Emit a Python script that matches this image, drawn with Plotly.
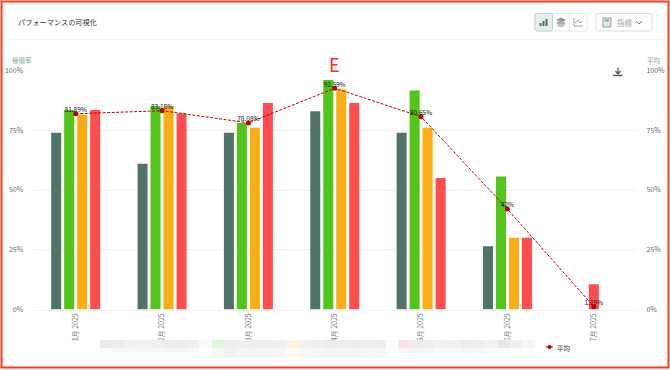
import plotly.graph_objects as go

W, H = 670, 370
months = ["1月 2025", "2月 2025", "3月 2025", "4月 2025", "5月 2025", "6月 2025", "7月 2025"]
series_a = [74, 61, 74, 83, 74, 26.5, None]
series_b = [83.5, 85, 78, 96, 91.6, 55.7, None]
series_c = [81.5, 85, 76, 92, 76, 30, None]
series_d = [83.5, 82, 86.4, 86.4, 55, 30, 10.6]
average = [81.89, 83.18, 78.08, 92.59, 80.65, 42, 1.19]
average_labels = ["81.89%", "83.18%", "78.08%", "92.59%", "80.65%", "42%", "1.19%"]
tick_vals = [0, 25, 50, 75, 100]
tick_text = ["0%", "25%", "50%", "75%", "100%"]
bar_colors = ["#4f7369", "#52c41a", "#faad14", "#ff4d4f"]
bar_names = ["A", "B", "C", "D"]


def px(x):
    return x / W


def py(y):
    return 1 - y / H


def rect(x0, y0, x1, y1, fill=None, line=None, lw=1, r=0):
    if r:
        path = (f"M{px(x0+r)},{py(y0)} L{px(x1-r)},{py(y0)} Q{px(x1)},{py(y0)} {px(x1)},{py(y0+r)} "
                f"L{px(x1)},{py(y1-r)} Q{px(x1)},{py(y1)} {px(x1-r)},{py(y1)} L{px(x0+r)},{py(y1)} "
                f"Q{px(x0)},{py(y1)} {px(x0)},{py(y1-r)} L{px(x0)},{py(y0+r)} Q{px(x0)},{py(y0)} {px(x0+r)},{py(y0)} Z")
        return dict(type="path", xref="paper", yref="paper", path=path,
                    fillcolor=fill or "rgba(0,0,0,0)", line=dict(color=line or "rgba(0,0,0,0)", width=lw), layer="above")
    return dict(type="rect", xref="paper", yref="paper", x0=px(x0), x1=px(x1), y0=py(y1), y1=py(y0),
                fillcolor=fill or "rgba(0,0,0,0)", line=dict(color=line or "rgba(0,0,0,0)", width=lw), layer="above")


def seg(x0, y0, x1, y1, color, lw=1):
    return dict(type="line", xref="paper", yref="paper", x0=px(x0), x1=px(x1), y0=py(y0), y1=py(y1),
                line=dict(color=color, width=lw), layer="above")


fig = go.Figure()
# Bars are grouped among the series that have a value in each month, so a month
# with a single value has its bar centred on the category.
bar_w = 10 / 86.4
pitch = 13 / 86.4
all_series = [series_a, series_b, series_c, series_d]
for s_i, (name, vals, col) in enumerate(zip(bar_names, all_series, bar_colors)):
    offsets = []
    for m_i in range(len(months)):
        present = [k for k in range(4) if all_series[k][m_i] is not None]
        pos = present.index(s_i) if s_i in present else 0
        offsets.append((pos - (len(present) - 1) / 2) * pitch - bar_w / 2)
    fig.add_trace(go.Bar(x=months, y=vals, name=name, width=bar_w, offset=offsets,
                         marker=dict(color=col, line=dict(width=0)), showlegend=False, hoverinfo="skip"))
fig.add_trace(go.Scatter(x=months, y=average, name="平均", yaxis="y2", mode="lines+markers",
                         line=dict(color="#c00000", width=1, dash="3px,1.5px"),
                         marker=dict(color="#c00000", size=5), showlegend=False))
fig.add_trace(go.Scatter(x=months, y=average, name="平均ラベル", yaxis="y2", mode="text",
                         text=average_labels, textposition="top center",
                         textfont=dict(size=6.5, color="#111111", family="Noto Sans CJK JP"),
                         showlegend=False))

shapes = [
    rect(1.5, 1.5, 668.5, 367.5, None, "#ff3b1f", 2),
    seg(5, 39.5, 664, 39.5, "#f4f5f5", 1),
    # toolbar
    rect(535, 13.5, 587, 31, "#ffffff", "#e4e9e8", 1, 2),
    rect(535, 13.5, 552.5, 31, "#e9eeed", "#c5d2cf", 1, 2),
    seg(569.5, 14, 569.5, 31, "#e8ecec", 1),
    rect(596, 13.5, 652, 31, "#ffffff", "#d8e2df", 1, 2),
    # bar icon
    rect(539.5, 23, 541.5, 26, "#4f7369"), rect(542.5, 21, 544.5, 26, "#4f7369"), rect(545.5, 19, 547.5, 26, "#4f7369"),
    # layer icon
    dict(type="path", xref="paper", yref="paper", layer="above", fillcolor="#8a9a96", line=dict(width=0),
         path=f"M{px(556)},{py(20)} L{px(561)},{py(17.5)} L{px(566)},{py(20)} L{px(561)},{py(22.5)} Z"),
    dict(type="path", xref="paper", yref="paper", layer="above", fillcolor="#a3afac", line=dict(width=0),
         path=f"M{px(556)},{py(23)} L{px(561)},{py(20.5)} L{px(566)},{py(23)} L{px(561)},{py(25.5)} Z"),
    dict(type="path", xref="paper", yref="paper", layer="above", fillcolor="#b8c2bf", line=dict(width=0),
         path=f"M{px(556)},{py(25)} L{px(561)},{py(23.5)} L{px(566)},{py(25)} L{px(561)},{py(27.5)} Z"),
    # line icon
    seg(574, 18, 574, 26, "#9aa8a5"), seg(574, 26, 583, 26, "#9aa8a5"),
    seg(575, 23, 578, 20, "#9aa8a5"), seg(578, 20, 580, 23, "#9aa8a5"), seg(580, 23, 583, 21, "#9aa8a5"),
    # calculator icon
    rect(603, 18, 611, 27, "#dfe6e4", "#8fa39e", 1),
    rect(605, 19.5, 609, 21.5, "#8fa39e"),
    # chevron
    seg(636, 21, 639, 24, "#6f817c"), seg(639, 24, 642, 21, "#6f817c"),
    # download icon
    rect(611, 66, 625, 74.5, "#ffffff"),
    seg(618, 67.5, 618, 73, "#555555", 1.2),
    seg(615.5, 71, 618, 74, "#555555", 1.2), seg(620.5, 71, 618, 74, "#555555", 1.2),
    seg(613, 75.5, 622.5, 75.5, "#555555", 1.4),
    # average legend key
    seg(546, 347, 553, 347, "#c00000", 1),
]

# obscured legend band
row1 = ["#e8ebeb", "#ebeded", "#f0f1f1", "#f1f2f2", "#eeefef", "#ededed", "#ebecec", "#eeeeee", "#fafafa",
        "#e2f4da", "#ededed", "#efefef", "#eeeeee", "#ededed", "#f0f0f0", "#fff2dd", "#f0f1f1",
        "#eeeeee", "#ebebeb", "#eeeeee", "#ececec", "#efefef", "#ececec", "#fcfcfc", "#fce2e2", "#ececec",
        "#eeeeee", "#f1f1f1", "#f0f0f0", "#ececec", "#eeeeee", "#f2f2f2", "#e9e9e9", "#efefef", "#f5f5f5"]
row2 = ["#f8f9f9", "#f7f7f7", "#f6f6f6", "#f5f5f5", "#f6f6f6", "#f4f4f4", "#f5f5f5", "#f7f7f7", "#fcfcfc",
        "#f3faf0", "#f1f1f1", "#f5f5f5", "#f3f3f3", "#f5f5f5", "#f5f5f5", "#fff9ee", "#f5f6f6",
        "#f6f6f6", "#f4f4f4", "#f5f5f5", "#f5f5f5", "#f6f6f6", "#f6f6f6", "#fdfdfd", "#fdf3f3", "#f4f4f4",
        "#f5f5f5", "#f7f7f7", "#f7f7f7", "#f6f6f6", "#f8f8f8", "#fafafa", "#fafafa", "#fbfbfb", "#fdfdfd"]
cw = 435 / len(row1)
for i, (c1, c2) in enumerate(zip(row1, row2)):
    x0 = 100 + i * cw
    fig_bottom = 357 if 190 < x0 < 395 else (352 if x0 <= 190 else 353)
    shapes.append(rect(x0, 340, x0 + cw, 348, c1))
    shapes.append(rect(x0, 348, x0 + cw, fig_bottom, c2))


def note(x, y, text, size, color, xanchor="left"):
    return dict(xref="paper", yref="paper", x=px(x), y=py(y), text=text, showarrow=False,
                font=dict(size=size, color=color), xanchor=xanchor, yanchor="middle", borderpad=0)


annotations = [
    note(17, 22, "パフォーマンスの可視化", 7.2, "#333333"),
    note(11, 60, "稼働率", 6.5, "#8fa39e"),
    note(645.5, 60, "平均", 6.5, "#8fa39e"),
    note(334, 64, "E", 18, "#ff2a12", "center"),
    note(616, 22.5, "指標", 7.5, "#9aa8a5"),
    note(556, 347.5, "平均", 6.5, "#333333"),
]
shapes.append(dict(type="circle", xref="paper", yref="paper", x0=px(547.5), x1=px(551.5), y0=py(349), y1=py(345),
                   fillcolor="#c00000", line=dict(width=0), layer="above"))

fig.update_layout(
    width=W, height=H, autosize=False, margin=dict(l=0, r=0, t=0, b=0, pad=0),
    paper_bgcolor="white", plot_bgcolor="white",
    font=dict(family="Noto Sans CJK JP, Noto Sans, sans-serif", size=7, color="#5b6b7b"),
    barmode="overlay", showlegend=False,
    xaxis=dict(domain=[px(32.5), px(637)], type="category", tickangle=-90, showgrid=False, automargin=False,
               showline=True, linecolor="#f4f5f5", ticks="", tickfont=dict(size=7, color="#70797f")),
    yaxis=dict(domain=[py(309.5), py(70.5)], range=[0, 100], tickvals=tick_vals, ticktext=tick_text,
               automargin=False, showgrid=True, gridcolor="#f1f2f3", gridwidth=1, zeroline=False, ticks="outside",
               ticklen=7, tickcolor="rgba(0,0,0,0)", tickfont=dict(size=7, color="#5b6b7b")),
    yaxis2=dict(overlaying="y", side="right", range=[0, 100], tickvals=tick_vals, ticktext=tick_text,
                automargin=False, showgrid=False, zeroline=False, ticks="outside", ticklen=7,
                tickcolor="rgba(0,0,0,0)", tickfont=dict(size=7, color="#5b6b7b")),
    shapes=shapes, annotations=annotations,
)
fig.write_html("out.html", config=dict(displayModeBar=False),
               post_script="document.body.style.margin='0';")
